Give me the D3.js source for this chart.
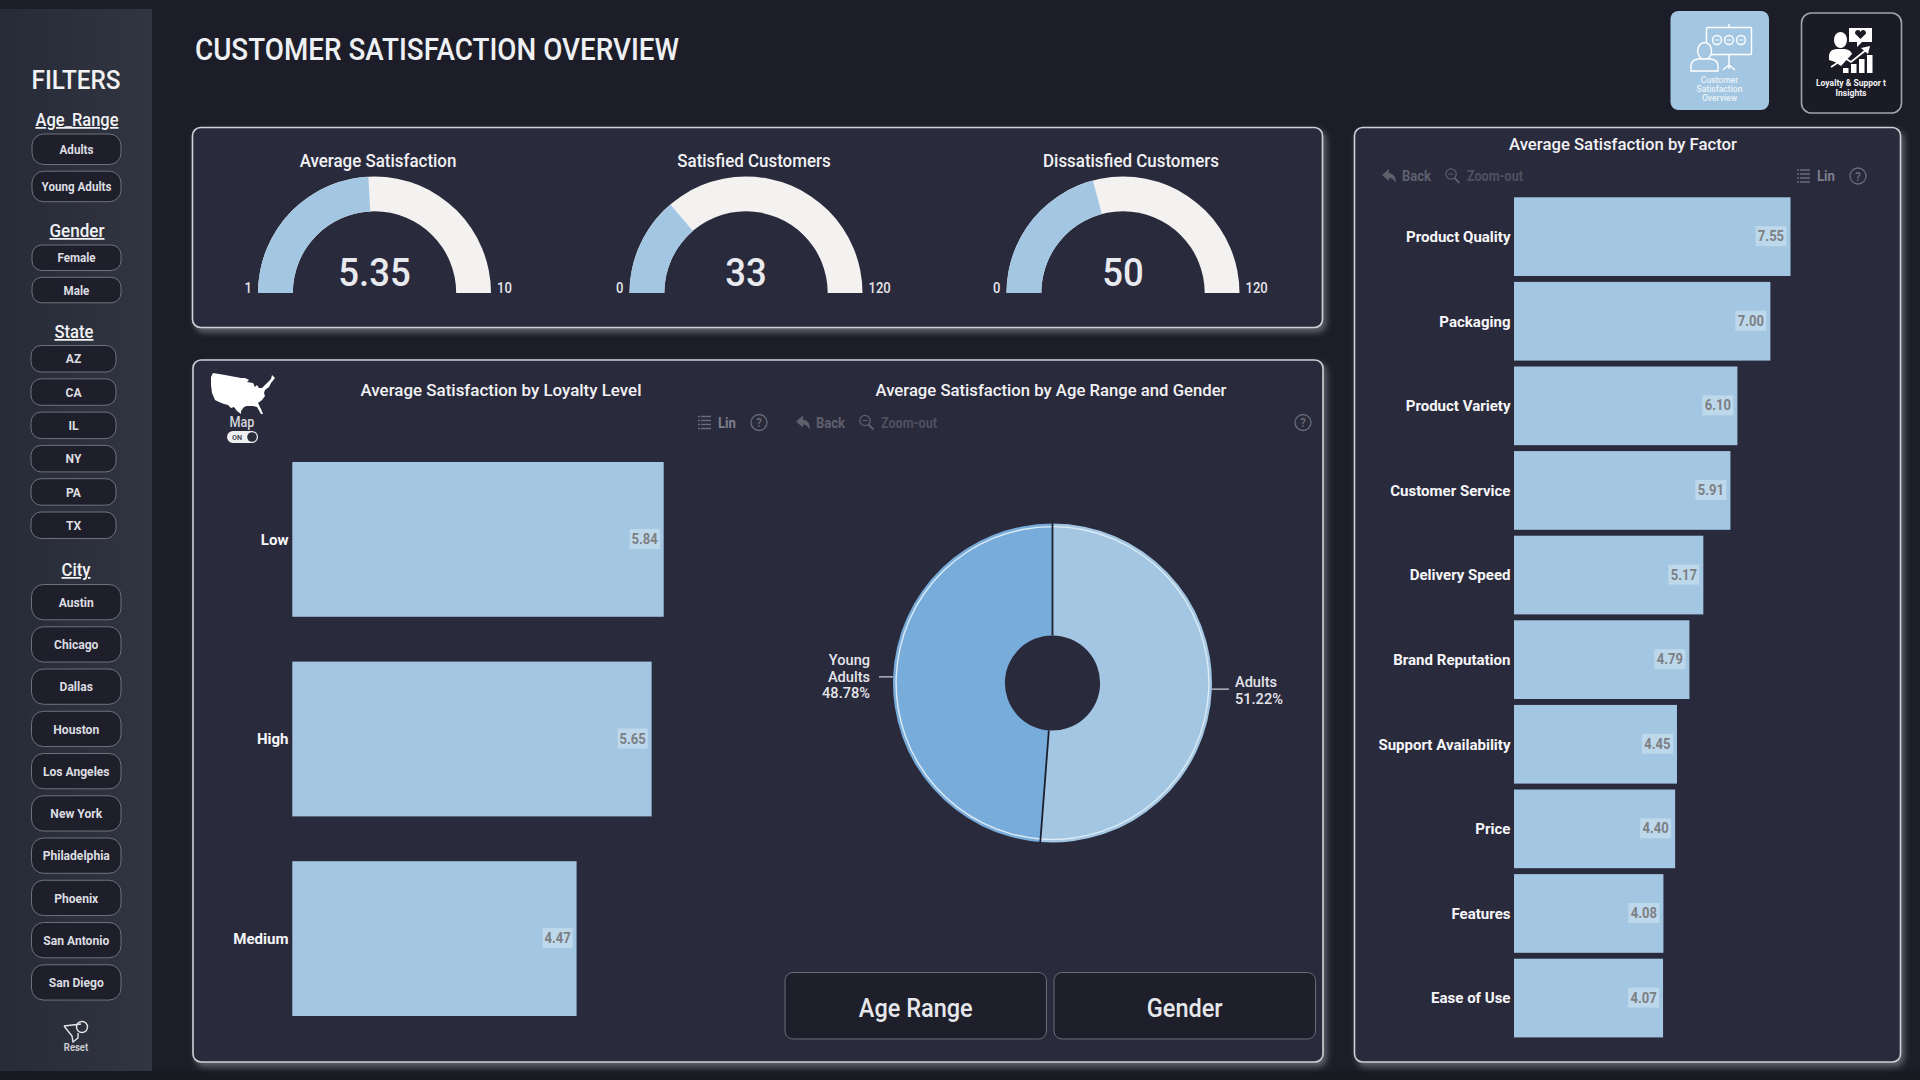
<!DOCTYPE html>
<html>
<head>
<meta charset="utf-8">
<title>Customer Satisfaction Overview</title>
<script src="https://cdn.jsdelivr.net/npm/d3@7"></script>
<style>
  html, body { margin: 0; padding: 0; background: #1c1d28; overflow: hidden; }
  svg { display: block; }
  text { font-family: Roboto, "Noto Sans", sans-serif; }
</style>
</head>
<body>
<svg id="chart" width="1920" height="1080"></svg>
<script>
// Chart values
const gaugeTitles = ["Average Satisfaction", "Satisfied Customers", "Dissatisfied Customers"];
const gaugeValues = [5.35, 33, 50];
const gaugeLabels = ["5.35", "33", "50"];
const gaugeMins = [1, 0, 0];
const gaugeMaxes = [10, 120, 120];

const loyaltyLevels = ["Low", "High", "Medium"];
const loyaltyValues = [5.84, 5.65, 4.47];

const factorNames = ["Product Quality", "Packaging", "Product Variety", "Customer Service", "Delivery Speed",
  "Brand Reputation", "Support Availability", "Price", "Features", "Ease of Use"];
const factorValues = [7.55, 7.00, 6.10, 5.91, 5.17, 4.79, 4.45, 4.40, 4.08, 4.07];

const ageRanges = ["Adults", "Young Adults"];
const ageShares = [51.22, 48.78];

const ageFilters = ["Adults", "Young Adults"];
const genderFilters = ["Female", "Male"];
const stateFilters = ["AZ", "CA", "IL", "NY", "PA", "TX"];
const cityFilters = ["Austin", "Chicago", "Dallas", "Houston", "Los Angeles", "New York",
  "Philadelphia", "Phoenix", "San Antonio", "San Diego"];

// Colours
const pageBg = "#1c1d28";
const panelBg = "#2a2c3c";
const barBlue = "#a3c7e2";
const darkBlue = "#77acdb";
const gaugeRest = "#f3f2f0";
const dimGrey = "#5e606c";

const svg = d3.select("#chart");
const squeeze = 0.9; // the original font is a narrow DIN, Roboto is wider

// Draw text, narrowed a bit, or fitted to a width
function label(parent, str, x, y, opts = {}) {
  const t = parent.append("text")
    .attr("x", x)
    .attr("y", y)
    .attr("text-anchor", opts.anchor || "middle")
    .attr("font-size", opts.size || 15)
    .attr("font-weight", opts.weight || 500)
    .attr("fill", opts.fill || "#f2f2f4")
    .text(str);
  if (opts.underline) t.style("text-decoration", "underline");
  const w = opts.width || t.node().getComputedTextLength() * (opts.sq || squeeze);
  t.attr("textLength", w).attr("lengthAdjust", "spacingAndGlyphs");
  return t;
}

const defs = svg.append("defs");
const glow = defs.append("filter").attr("id", "panelShadow")
  .attr("x", "-3%").attr("y", "-5%").attr("width", "106%").attr("height", "110%");
glow.append("feDropShadow").attr("dx", 3).attr("dy", 4).attr("stdDeviation", 3)
  .attr("flood-color", "#9a9ca6").attr("flood-opacity", 0.55);
const sideFade = defs.append("linearGradient").attr("id", "sideFade");
sideFade.append("stop").attr("offset", "0%").attr("stop-color", "#272b37");
sideFade.append("stop").attr("offset", "100%").attr("stop-color", "#313541");

// Page background and strips
svg.append("rect").attr("width", 1920).attr("height", 1080).attr("fill", pageBg);
svg.append("rect").attr("y", 1071).attr("width", 1920).attr("height", 9).attr("fill", "#181a22");
svg.append("rect").attr("y", 9).attr("width", 152).attr("height", 1062).attr("fill", "url(#sideFade)");

label(svg, "CUSTOMER SATISFACTION OVERVIEW", 195, 60, {anchor: "start", size: 32, width: 484, weight: 500, fill: "#eef0f4"});

// Panels
function panel(x, y, w, h) {
  svg.append("rect")
    .attr("x", x).attr("y", y).attr("width", w).attr("height", h).attr("rx", 8)
    .attr("fill", panelBg).attr("stroke", "#cfd0d6").attr("stroke-width", 1.6)
    .attr("filter", "url(#panelShadow)");
}
panel(192.5, 127.5, 1130, 200);
panel(193, 360, 1130, 702);
panel(1354.5, 127.5, 546, 934.5);

// ---- Sidebar filters ----
const sidebar = svg.append("g");
label(sidebar, "FILTERS", 76, 89, {size: 25, width: 89});

function filterGroup(title, titleX, titleY, titleW, items, x, w, y0, step, h, size) {
  label(sidebar, title, titleX, titleY, {size: 17.5, width: titleW, underline: true});
  const pills = sidebar.selectAll(null).data(items).enter().append("g");
  pills.append("rect")
    .attr("x", x).attr("y", (d, i) => y0 + i * step)
    .attr("width", w).attr("height", h).attr("rx", Math.min(h / 2.6, 12))
    .attr("fill", "#1e1f2a").attr("stroke", "#6f727c").attr("stroke-width", 1);
  pills.each(function(d, i) {
    label(d3.select(this), d, x + w / 2, y0 + i * step + h / 2 + size * 0.36, {size: size, weight: 700, fill: "#dcdde1", sq: 0.93});
  });
}
filterGroup("Age_Range", 77, 126, 83, ageFilters, 32, 89, 134, 37.2, 30.5, 12.5);
filterGroup("Gender", 77, 237, 55, genderFilters, 32, 89, 245, 32.3, 25.5, 12.5);
filterGroup("State", 74, 338, 39, stateFilters, 31, 85, 345.5, 33.3, 26.5, 13);
filterGroup("City", 76, 576, 29, cityFilters, 31.5, 89.5, 584.5, 42.25, 35.3, 13);

// Reset icon
const reset = svg.append("g").attr("fill", "none").attr("stroke", "#e4e5e8").attr("stroke-width", 1.4);
reset.append("path").attr("d", "M64,1026 L81,1024 M64,1026 L72,1036 L73,1042 L78,1038 L78,1033");
reset.append("circle").attr("cx", 82).attr("cy", 1027).attr("r", 5.5);
label(svg, "Reset", 76, 1051, {size: 10.5, weight: 700, fill: "#c8c9ce"});

// ---- Nav tiles ----
const tile1 = svg.append("g");
tile1.append("rect").attr("x", 1670.5).attr("y", 11).attr("width", 98.5).attr("height", 99).attr("rx", 8).attr("fill", barBlue);
const ic1 = tile1.append("g").attr("fill", "none").attr("stroke", "#fff").attr("stroke-width", 1.4);
ic1.append("rect").attr("x", 1706.5).attr("y", 27.5).attr("width", 45).attr("height", 27).attr("rx", 1);
ic1.append("path").attr("d", "M1729,24 V27 M1729,54 V69 M1723,70 L1729,65 L1735,70");
[1717, 1729, 1741].forEach(cx => {
  ic1.append("circle").attr("cx", cx).attr("cy", 40).attr("r", 4.5);
  ic1.append("path").attr("d", `M${cx - 2},40 H${cx + 2}`).attr("stroke-width", 1);
});
ic1.append("ellipse").attr("cx", 1704.6).attr("cy", 51).attr("rx", 7).attr("ry", 8.5).attr("fill", barBlue);
ic1.append("path").attr("d", "M1691,71 V66 Q1691,60 1698,59 H1711 Q1718,60 1718,66 V71 Z").attr("fill", barBlue);
["Customer", "Satisfaction", "Overview"].forEach((s, i) =>
  label(tile1, s, 1719.5, 83 + i * 8.8, {size: 9.5, fill: "#eaf2f8", weight: 500}));

const tile2 = svg.append("g");
tile2.append("rect").attr("x", 1801.5).attr("y", 13).attr("width", 100).attr("height", 100).attr("rx", 10)
  .attr("fill", "#1a1b24").attr("stroke", "#a2a4ac").attr("stroke-width", 1.6);
tile2.append("ellipse").attr("cx", 1840.5).attr("cy", 40).attr("rx", 6.5).attr("ry", 8).attr("fill", "#fff");
tile2.append("path").attr("d", "M1829,60 V55 Q1830,49 1837,49 H1845 Q1851,50 1852,54 L1841,66 L1835,62 Z").attr("fill", "#fff");
tile2.append("path").attr("d", "M1849,28 H1872 V42 H1862 L1857,47 V42 H1849 Z").attr("fill", "#fff");
tile2.append("path").attr("d", "M1860.5,39 L1855,33.5 Q1855,30 1858,30 Q1860,30 1860.5,32 Q1861,30 1863,30 Q1866,30 1866,33.5 Z").attr("fill", "#1a1b24");
tile2.append("path").attr("d", "M1831,67 L1845,58 L1851,62 L1866,50").attr("fill", "none").attr("stroke", "#fff").attr("stroke-width", 1.8);
tile2.append("path").attr("d", "M1861,48 L1870,46 L1868,54 Z").attr("fill", "#fff");
tile2.selectAll(null).data([[1843, 68], [1851, 64], [1859, 59], [1867, 55]]).enter().append("rect")
  .attr("x", d => d[0]).attr("y", d => d[1]).attr("width", 5.5).attr("height", d => 73 - d[1]).attr("fill", "#fff");
label(tile2, "Loyalty & Suppor t", 1851, 86, {size: 9.8, width: 70, weight: 700});
label(tile2, "Insights", 1851, 95.5, {size: 9.8, width: 31, weight: 700});

// ---- Gauges ----
const gaugeCentres = [374.5, 746, 1123];
const gaugeTitleCentres = [378, 754, 1131];
const outerR = 116.5, innerR = 81.7, gaugeBase = 293;
const gaugeArc = d3.arc().innerRadius(innerR).outerRadius(outerR);

gaugeValues.forEach((v, i) => {
  const g = svg.append("g").attr("transform", `translate(${gaugeCentres[i]},${gaugeBase})`);
  const angle = d3.scaleLinear().domain([gaugeMins[i], gaugeMaxes[i]]).range([-Math.PI / 2, Math.PI / 2]);
  g.append("path").attr("fill", gaugeRest).attr("d", gaugeArc({startAngle: -Math.PI / 2, endAngle: Math.PI / 2}));
  g.append("path").attr("fill", barBlue).attr("d", gaugeArc({startAngle: -Math.PI / 2, endAngle: angle(v)}));
  label(g, gaugeLabels[i], 0, -7.5, {size: 38, weight: 500, fill: "#e9eaf0", sq: 0.96});
  label(g, gaugeMins[i], -outerR - 6, 0, {size: 14.5, anchor: "end", fill: "#e4e5e8"});
  label(g, gaugeMaxes[i], outerR + 6, 0, {size: 14.5, anchor: "start", fill: "#e4e5e8"});
  label(svg, gaugeTitles[i], gaugeTitleCentres[i], 167, {size: 18, weight: 500, sq: 0.94});
});

// ---- Toolbar bits ----
function helpIcon(parent, cx, cy, color) {
  parent.append("circle").attr("cx", cx).attr("cy", cy).attr("r", 8)
    .attr("fill", "none").attr("stroke", color).attr("stroke-width", 1.3);
  label(parent, "?", cx, cy + 4.5, {size: 12.5, fill: color});
}
function listIcon(parent, x, cy, color) {
  parent.append("path").attr("stroke", color).attr("stroke-width", 1.4).attr("fill", "none")
    .attr("d", d3.range(4).map(i => `M${x},${cy - 6 + i * 4} h2 m1,0 h10`).join(" "));
}
function backIcon(parent, x, cy, color) {
  parent.append("path").attr("fill", color)
    .attr("d", `M${x},${cy - 1} L${x + 7},${cy - 7} V${cy - 3} Q${x + 14},${cy - 2} ${x + 14},${cy + 7} Q${x + 11},${cy + 2} ${x + 7},${cy + 2} V${cy + 5} Z`);
}
function zoomIcon(parent, x, cy, color) {
  parent.append("circle").attr("cx", x + 5.5).attr("cy", cy - 2).attr("r", 5.2)
    .attr("fill", "none").attr("stroke", color).attr("stroke-width", 1.2);
  parent.append("path").attr("stroke", color).attr("stroke-width", 1.8).attr("d", `M${x + 9},${cy + 2} L${x + 14},${cy + 7}`);
  parent.append("path").attr("stroke", color).attr("stroke-width", 1).attr("d", `M${x + 3},${cy - 2} h5`);
}
function backZoom(parent, x, cy) {
  backIcon(parent, x, cy, dimGrey);
  label(parent, "Back", x + 20, cy + 5, {size: 14, width: 29, anchor: "start", weight: 700, fill: dimGrey});
  zoomIcon(parent, x + 63.5, cy, dimGrey);
  label(parent, "Zoom-out", x + 85, cy + 5, {size: 14, width: 56, anchor: "start", weight: 700, fill: "#4f515d"});
}
function linHelp(parent, x, cy, helpX) {
  listIcon(parent, x, cy, "#6a6c78");
  label(parent, "Lin", x + 20, cy + 5, {size: 14, width: 18, anchor: "start", weight: 700, fill: "#7d7f8a"});
  helpIcon(parent, helpX, cy, "#6a6c78");
}

// ---- Horizontal bars ----
function valueBadge(parent, str, xEnd, yMid, w) {
  parent.append("rect").attr("x", xEnd - w - 4).attr("y", yMid - 10.5).attr("width", w).attr("height", 20)
    .attr("fill", "#fff").attr("opacity", 0.3);
  label(parent, str, xEnd - 4 - w / 2, yMid + 4.5, {size: 14.5, weight: 700, fill: "#7c7f84"});
}

function barChart(cats, vals, x, y, labelX, labelSize, badgeW) {
  const g = svg.append("g");
  g.selectAll(null).data(vals).enter().append("rect")
    .attr("x", x(0)).attr("y", (d, i) => y(cats[i]))
    .attr("width", d => x(d) - x(0)).attr("height", y.bandwidth())
    .attr("fill", barBlue);
  cats.forEach((c, i) => {
    const mid = y(c) + y.bandwidth() / 2;
    label(g, c, labelX, mid + labelSize * 0.35, {size: labelSize, anchor: "end", weight: 700, fill: "#f6f6f8", sq: 0.97});
    valueBadge(g, vals[i].toFixed(2), x(vals[i]), mid, badgeW);
  });
}

// Loyalty level
const loyaltyX = d3.scaleLinear().domain([0, 5.84]).range([292.3, 663.7]);
const loyaltyY = d3.scaleBand().domain(loyaltyLevels).range([462, 1016]).paddingInner(0.2246);
barChart(loyaltyLevels, loyaltyValues, loyaltyX, loyaltyY, 288.5, 15.5, 30);
label(svg, "Average Satisfaction by Loyalty Level", 501, 396, {size: 17, width: 281});
linHelp(svg, 698, 422.5, 759);

// Factor
const factorX = d3.scaleLinear().domain([0, 7.55]).range([1514, 1790.5]);
const factorY = d3.scaleBand().domain(factorNames).range([197.3, 1037.4]).paddingInner(0.07);
barChart(factorNames, factorValues, factorX, factorY, 1510.5, 15.5, 31);
label(svg, "Average Satisfaction by Factor", 1623, 150, {size: 17, width: 228});
backZoom(svg, 1382, 176);
linHelp(svg, 1797, 176, 1858);

// ---- Donut ----
const donutX = 1052.5, donutY = 683, donutR = 159.5, holeR = 47.6;
const donut = svg.append("g").attr("transform", `translate(${donutX},${donutY})`);
const pie = d3.pie().sort(null)(ageShares);
const donutColor = d3.scaleOrdinal().domain(ageRanges).range([barBlue, darkBlue]);
const donutArc = d3.arc().innerRadius(holeR).outerRadius(donutR);
const rimArc = d3.arc().innerRadius(donutR - 3.8).outerRadius(donutR - 2.4);

donut.selectAll(".slice").data(pie).enter().append("path")
  .attr("class", "slice")
  .attr("d", donutArc)
  .attr("fill", (d, i) => donutColor(ageRanges[i]));
donut.selectAll(".rim").data(pie).enter().append("path")
  .attr("class", "rim")
  .attr("d", rimArc)
  .attr("fill", "#dcebf6");
donut.selectAll(".seam").data(pie).enter().append("line")
  .attr("class", "seam")
  .attr("x1", d => holeR * Math.sin(d.startAngle)).attr("y1", d => -holeR * Math.cos(d.startAngle))
  .attr("x2", d => (donutR + 1) * Math.sin(d.startAngle)).attr("y2", d => -(donutR + 1) * Math.cos(d.startAngle))
  .attr("stroke", "#1c1e2c").attr("stroke-width", 1.8);

// Leader lines and labels sit at each slice's middle angle
pie.forEach((d, i) => {
  const mid = (d.startAngle + d.endAngle) / 2;
  const side = Math.sin(mid) > 0 ? 1 : -1;
  const ly = -donutR * Math.cos(mid);
  const lineLen = side > 0 ? 17 : 14;
  donut.append("line")
    .attr("x1", side * donutR).attr("y1", ly)
    .attr("x2", side * (donutR + lineLen)).attr("y2", ly)
    .attr("stroke", "#d6d7dc").attr("stroke-width", 1.2);
  const words = ageRanges[i].split(" ").concat(ageShares[i].toFixed(2) + "%");
  const textX = side > 0 ? donutR + 23 : -donutR - 23;
  const firstY = ly + (side > 0 ? -2 : -12);
  words.forEach((w, k) => {
    label(donut, w, textX, firstY + k * 16.6, {size: 15.5, weight: 500, anchor: side > 0 ? "start" : "end", fill: "#e4e5ea", sq: 0.94});
  });
});

label(svg, "Average Satisfaction by Age Range and Gender", 1051, 396, {size: 17, width: 351});
backZoom(svg, 796, 422.5);
helpIcon(svg, 1303, 422.5, "#6a6c78");

// Bottom switch buttons
[["Age Range", 785, 261.5], ["Gender", 1054, 261.5]].forEach(b => {
  svg.append("rect").attr("x", b[1]).attr("y", 972.5).attr("width", b[2]).attr("height", 66.5).attr("rx", 8)
    .attr("fill", "#1e1f2a").attr("stroke", "#6a6d78").attr("stroke-width", 1);
  label(svg, b[0], b[1] + b[2] / 2, 1017, {size: 25, weight: 500, fill: "#e6e7ec", sq: 0.94});
});

// ---- Map toggle ----
const usShape = "M0,4 L2,0 L14,2 L30,5 L34,5 L38,7 L36,9 L42,10 L44,14 L46,12 L48,15 L51,15 L55,11 L60,6 L61,2 L64,5 L60,10 L58,14 L54,17 L53,20 L54,23 L51,27 L47,30 L50,36 L52,41 L50,41 L46,34 L42,33 L36,33 L33,34 L30,38 L30,41 L26,38 L23,34 L20,35 L17,32 L13,31 L8,29 L4,27 L1,20 L0,12 Z";
svg.append("path").attr("d", usShape).attr("fill", "#fff").attr("transform", "translate(211,373)");
label(svg, "Map", 242, 427, {size: 14, weight: 500, fill: "#d4d5da"});
svg.append("rect").attr("x", 227).attr("y", 431).attr("width", 31).attr("height", 12).attr("rx", 6).attr("fill", "#f0f0f2");
svg.append("circle").attr("cx", 252).attr("cy", 437).attr("r", 4.8).attr("fill", "#2a2c3c");
label(svg, "ON", 237, 440, {size: 8, weight: 700, fill: "#4a4c58"});
</script>
</body>
</html>
